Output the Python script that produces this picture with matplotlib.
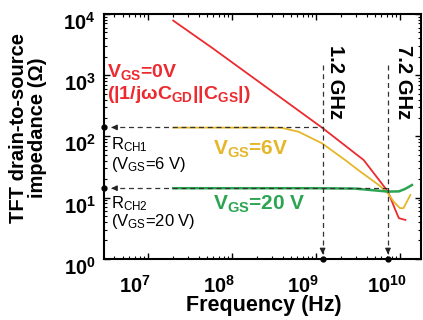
import matplotlib
matplotlib.use('Agg')
import matplotlib.pyplot as plt
import matplotlib.transforms as mtransforms

plt.rcParams['font.family'] = ['Liberation Sans', 'DejaVu Sans']
plt.rcParams['mathtext.fontset'] = 'custom'
plt.rcParams['mathtext.rm'] = 'Liberation Sans'
plt.rcParams['mathtext.bf'] = 'Liberation Sans:bold'
plt.rcParams['mathtext.it'] = 'Liberation Sans:italic'

# impedance curves (Hz, Ohm)
f_red = [2.0e7, 5.8e7, 1.18e9, 3.7e9, 7.2e9, 8.8e9, 9.7e9, 1.16e10]
z_red = [7800, 2800, 139, 41, 12.5, 6.3, 4.6, 4.3]

f_yel = [2.0e7, 2.5e8, 3.9e8, 6.2e8, 1.18e9, 2.23e9, 3.2e9, 5.6e9, 7.2e9, 8.4e9, 1.0e10, 1.1e10, 1.33e10]
z_yel = [139, 139, 138, 119, 77, 41, 28, 16, 11.7, 8.6, 6.7, 6.7, 11]

f_grn = [2.0e7, 1.0e9, 2.9e9, 7.2e9, 9.7e9, 1.15e10, 1.39e10]
z_grn = [14.2, 14.2, 14.0, 12.5, 12.6, 13.8, 16]

r_ch = [140, 14.2]          # R_CH1, R_CH2
f_mark = [1.2e9, 7.2e9]     # marked frequencies
f_ticks = [1e7, 1e8, 1e9, 1e10]
f_ticklabels = ['$\\mathbf{10^{7}}$', '$\\mathbf{10^{8}}$', '$\\mathbf{10^{9}}$', '$\\mathbf{10^{10}}$']
z_ticks = [1, 10, 100, 1000, 10000]
z_ticklabels = ['$\\mathbf{10^{0}}$', '$\\mathbf{10^{1}}$', '$\\mathbf{10^{2}}$',
                '$\\mathbf{10^{3}}$', '$\\mathbf{10^{4}}$']

c_red = '#ec2a2f'
c_yel = '#e6b62a'
c_grn = '#2ba552'

fig = plt.figure(figsize=(4.23, 3.2), dpi=100)
ax = fig.add_axes([104/423, 1-258.7/320, 317/423, 244.7/320])
ax.set_xscale('log')
ax.set_yscale('log')
ax.set_xlim(3e6, 1.78e10)
ax.set_ylim(1, 1e4)

ax.plot(f_red, z_red, color=c_red, lw=1.3, zorder=3)
ax.plot(f_yel, z_yel, color=c_yel, lw=1.3, zorder=3)
ax.plot(f_grn, z_grn, color=c_grn, lw=1.8, zorder=3)

# guide lines
dash = dict(color='#333333', lw=0.9, ls=(0, (4, 3)), zorder=4)
for r, f in zip(r_ch, f_mark):
    ax.plot([3.6e6, f], [r, r], **dash)
    ax.annotate('', xy=(3.4e6, r), xytext=(4.6e6, r),
                arrowprops=dict(arrowstyle='-|>', color='#222222', lw=0.9, mutation_scale=8), zorder=5)
    ax.plot([3e6], [r], 'o', color='black', ms=3.5, clip_on=False, zorder=6)
for f in f_mark:
    ax.plot([f, f], [1470, 1.15], **dash)
    ax.annotate('', xy=(f, 1.07), xytext=(f, 1.45),
                arrowprops=dict(arrowstyle='-|>', color='#222222', lw=0.9, mutation_scale=8), zorder=5)
    ax.plot([f], [1], 'o', color='black', ms=3.5, clip_on=False, zorder=6)

# ticks
ax.set_xticks(f_ticks)
ax.set_xticklabels(f_ticklabels)
ax.set_yticks(z_ticks)
ax.set_yticklabels(z_ticklabels)
ax.tick_params(which='both', direction='in', top=True, right=True)
ax.tick_params(which='major', length=4, width=1, labelsize=14.5)
ax.tick_params(axis='x', which='major', pad=12)
ax.tick_params(axis='y', which='major', pad=6)
ax.tick_params(which='minor', length=2.5, width=0.8)
offx = mtransforms.ScaledTranslation(-0.13, 0, fig.dpi_scale_trans)
for lab in ax.get_xticklabels():
    lab.set_transform(lab.get_transform() + offx)
offy = mtransforms.ScaledTranslation(0, -0.07, fig.dpi_scale_trans)
for lab in ax.get_yticklabels():
    lab.set_transform(lab.get_transform() + offy)
for s in ax.spines.values():
    s.set_linewidth(1.5)

# text
tr = ax.transAxes
ax.text(0.01, 0.762, 'V$_{\\mathbf{GS}}$=0V', color=c_red, fontsize=14, fontweight='bold',
        va='center', transform=tr)
ax.text(0.01, 0.672, '(|1/jωC$_{\\mathbf{GD}}$||C$_{\\mathbf{GS}}$|)', color=c_red, fontsize=14,
        fontweight='bold', va='center', transform=tr)
ax.text(0.344, 0.445, 'V$_{\\mathbf{GS}}$=6V', color=c_yel, fontsize=15, fontweight='bold',
        va='center', transform=tr)
ax.text(0.344, 0.222, 'V$_{\\mathbf{GS}}$=20 V', color=c_grn, fontsize=15, fontweight='bold',
        va='center', transform=tr)
ax.text(0.022, 0.465, 'R$_{\\mathrm{CH1}}$', fontsize=12, va='center', transform=tr)
ax.text(0.022, 0.387, '(V$_{\\mathrm{GS}}$=6 V)', fontsize=12, va='center', transform=tr)
ax.text(0.022, 0.224, 'R$_{\\mathrm{CH2}}$', fontsize=12, va='center', transform=tr)
ax.text(0.022, 0.150, '(V$_{\\mathrm{GS}}$=20 V)', fontsize=12, va='center', transform=tr)
ax.text(0.729, 0.722, '1.2 GHz', rotation=-90, fontsize=14.5, fontweight='bold',
        ha='center', va='center', transform=tr)
ax.text(0.946, 0.722, '7.2 GHz', rotation=-90, fontsize=14.5, fontweight='bold',
        ha='center', va='center', transform=tr)

fig.text(28/423, 1-128/320, 'TFT drain-to-source\nimpedance (Ω)', rotation=90, fontsize=14.5,
         fontweight='bold', ha='center', va='center', multialignment='center', linespacing=0.95)
fig.text(264/423, 1-306/320, 'Frequency (Hz)', fontsize=15.5, fontweight='bold',
         ha='center', va='center')

fig.savefig('out.png', dpi=100)
